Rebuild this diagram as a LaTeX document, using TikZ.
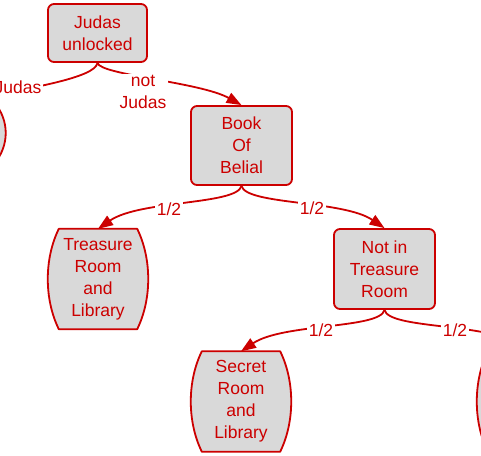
\documentclass[tikz,border=0pt]{standalone}
\usepackage{fontspec}
\setmainfont{Liberation Sans}
\usetikzlibrary{arrows.meta,calc,backgrounds}
\definecolor{gvred}{RGB}{204,0,0}
\definecolor{gvfill}{RGB}{217,217,217}
\tikzset{
  txt/.style={text=gvred, font=\fontsize{17.5}{22}\selectfont, align=center},
  boxnode/.style={txt, draw=gvred, fill=gvfill, line width=1.8pt, rounded corners=6pt, inner sep=0pt},
  barrelnode/.style={txt, inner sep=0pt},
  barrelline/.style={draw=gvred, fill=gvfill, line width=1.8pt, line join=round},
  edgeline/.style={draw=gvred, line width=1.8pt, -{Triangle[length=15pt,width=11pt]}},
  lbl/.style={txt, fill=white, inner sep=1.5pt},
}
\newcommand\barrelshape[1]{%
  \path[barrelline] ([xshift=11pt]#1.north west) -- ([xshift=-11pt]#1.north east)
    .. controls ([xshift=3.7pt]$(#1.north east)!0.3!(#1.south east)$) and ([xshift=3.7pt]$(#1.north east)!0.7!(#1.south east)$) .. ([xshift=-11pt]#1.south east)
    -- ([xshift=11pt]#1.south west)
    .. controls ([xshift=-3.7pt]$(#1.south west)!0.3!(#1.north west)$) and ([xshift=-3.7pt]$(#1.south west)!0.7!(#1.north west)$) .. ([xshift=11pt]#1.north west) -- cycle;}
\begin{document}
\begin{tikzpicture}[x=1pt,y=-1pt]
\useasboundingbox (0,0) rectangle (481,455);
\clip (0,0) rectangle (481,455);
% nodes
\node[boxnode, minimum width=99pt, minimum height=58pt] (j) at (97.5,33) {Judas\\unlocked};
\node[boxnode, minimum width=101pt, minimum height=79pt] (b) at (241.5,145.5) {Book\\Of\\Belial};
\node[boxnode, minimum width=101pt, minimum height=80pt] (n) at (384.5,269) {Not in\\Treasure\\Room};
\node[barrelnode, minimum width=100pt, minimum height=100pt] (t) at (98,279) {Treasure\\Room\\and\\Library};
\node[barrelnode, minimum width=100pt, minimum height=100pt] (s) at (241,401.5) {Secret\\Room\\and\\Library};
\node[barrelnode, minimum width=100pt, minimum height=100pt] (r) at (527,401.5) {};
\node[barrelnode, minimum width=100pt, minimum height=60pt] (l) at (-44.5,133) {};
\begin{pgfonlayer}{background}
  \barrelshape{t}
  \barrelshape{s}
  \barrelshape{r}
  \barrelshape{l}
\end{pgfonlayer}
% edges
\draw[edgeline] (j.south) .. controls (100,75) and (200,82) .. (b.north);
\draw[edgeline] (j.south) .. controls (95,78) and (30,88) .. (l.north);
\draw[edgeline] (b.south) .. controls (237,205) and (140,200) .. (t.north);
\draw[edgeline] (b.south) .. controls (246,205) and (343,200) .. (n.north);
\draw[edgeline] (n.south) .. controls (380.5,329) and (283.5,323) .. (s.north);
\draw[edgeline] (n.south) .. controls (388.5,329) and (485.5,323) .. (r.north);
% labels
\node[lbl] (lnj) at (143,92) {not\\Judas};
\node[lbl] (lj) at (18,87) {Judas};
\node[lbl] (l1) at (169,209) {1/2};
\node[lbl] (l2) at (312,208) {1/2};
\node[lbl] (l3) at (321,330) {1/2};
\node[lbl] (l4) at (455,330) {1/2};
\end{tikzpicture}
\end{document}
